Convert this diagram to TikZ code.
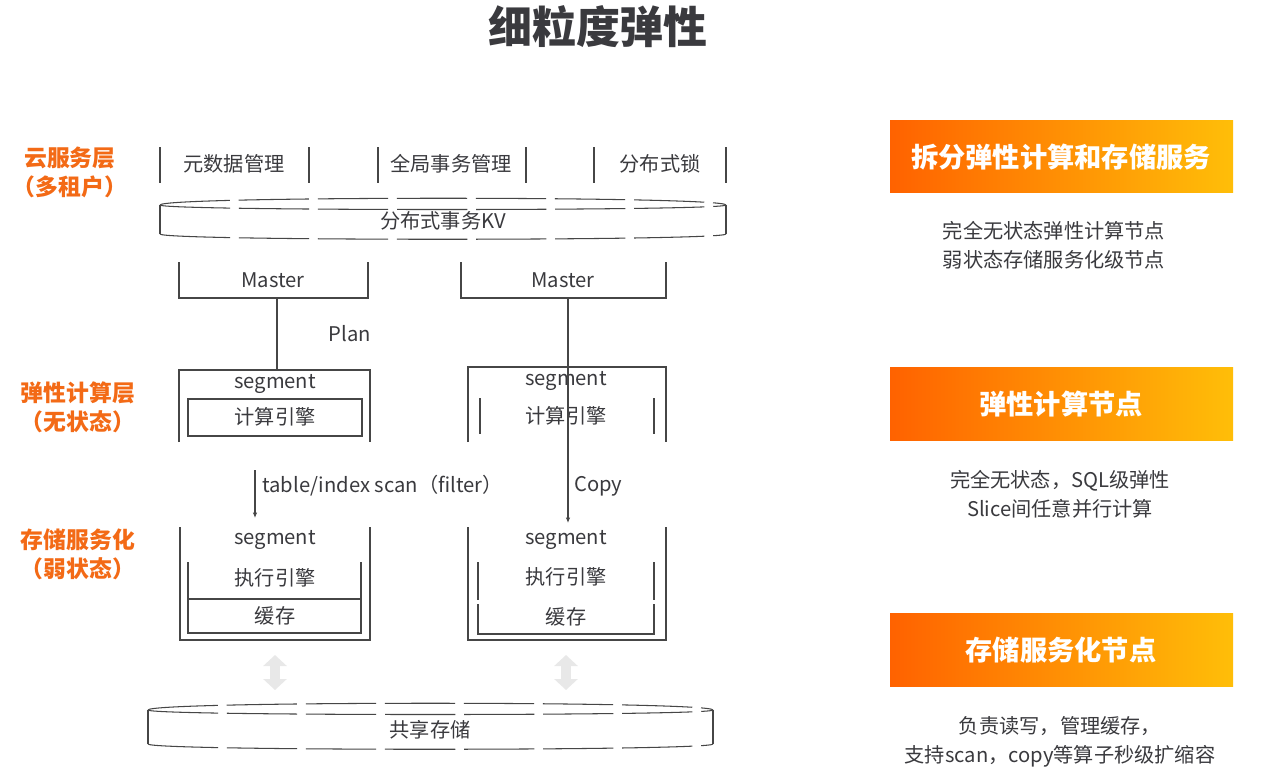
\documentclass[tikz,border=0pt]{standalone}
\usepackage{fontspec}
\setmainfont{Noto Sans CJK SC}
\usepackage{tikz}
\usetikzlibrary{arrows.meta}
\definecolor{textgray}{RGB}{58,58,62}
\definecolor{linegray}{RGB}{70,70,70}
\definecolor{layerorange}{RGB}{243,106,22}
\definecolor{bandleft}{RGB}{255,98,0}
\definecolor{bandmid}{RGB}{255,140,0}
\definecolor{bandright}{RGB}{255,190,8}
\definecolor{arrowgray}{RGB}{232,232,232}

% flat drum: x left, x right, y top of sides, y bottom of sides
\newcommand{\drawdrum}[4]{%
  \draw[drum] (#1,#3) .. controls (#1,#3-9) and (#2,#3-9) .. (#2,#3);
  \draw[drum] (#1,#3) .. controls (#1,#3+6) and (#2,#3+6) .. (#2,#3);
  \draw[drum] (#1,#4) .. controls (#1,#4+7) and (#2,#4+7) .. (#2,#4);
  \draw[drum] (#1,#3) -- (#1,#4) (#2,#3) -- (#2,#4);}

\begin{document}
\begin{tikzpicture}[x=0.02cm, y=-0.02cm,
  txt/.style={text=textgray, font=\fontsize{11.5}{13}\selectfont, inner sep=0pt},
  layer/.style={text=layerorange, font=\bfseries\fontsize{13}{16.5}\selectfont, align=center},
  band/.style={text=white, font=\bfseries\fontsize{15.5}{18}\selectfont},
  note/.style={text=textgray, font=\fontsize{11.5}{16.5}\selectfont, align=center},
  frame/.style={draw=linegray, line width=0.7pt},
  drum/.style={draw=linegray, line width=0.6pt, dash pattern=on 40pt off 5pt}]
    % Background
    \fill[white] (0,0) rectangle (1268,782);
    \useasboundingbox (0,0) rectangle (1268,782);
    % Title
    \node[text=textgray, font=\bfseries\fontsize{25}{30}\selectfont] (title) at (598,27) {细粒度弹性};
    % Layer names
    \node[layer] (cloud) at (70,172) {云服务层\\（多租户）};
    \node[layer] (compute) at (78,407) {弹性计算层\\（无状态）};
    \node[layer] (storage) at (78,554) {存储服务化\\（弱状态）};
    % Cloud service row
    \foreach \x in {160,309,378,526,594,726}
      \draw[frame] (\x,147) -- (\x,183);
    \node[txt] (meta) at (234,164) {元数据管理};
    \node[txt] (txn) at (451,164) {全局事务管理};
    \node[txt] (lock) at (660,164) {分布式锁};
    % Distributed KV
    \drawdrum{160}{726}{205}{234}
    \node[txt] (kv) at (443,221) {分布式事务KV};
    % Master boxes
    \draw[frame] (179,262) -- (179,298) -- (368,298) -- (368,262);
    \node[txt] (master1) at (273,280) {Master};
    \draw[frame] (461,262) -- (461,298) -- (666,298) -- (666,262);
    \node[txt] (master2) at (563,280) {Master};
    \coordinate (m1) at (277,298);
    \coordinate (m2) at (568,298);
    % Compute segments
    \draw[frame] (179,442) -- (179,370) -- (370,370) -- (370,442);
    \node[txt] (seg1) at (275,384) {segment};
    \draw[frame] (188,399) rectangle (362,436);
    \node[txt] (eng1) at (275,417) {计算引擎};
    \draw[frame] (468,442) -- (468,367) -- (666,367) -- (666,442);
    \node[txt] (seg2) at (566,381) {segment};
    \draw[frame] (480,398) -- (480,434) (654,398) -- (654,434);
    \node[txt] (eng2) at (566,416) {计算引擎};
    \coordinate (c1) at (277,370);
    % Plan
    \draw[frame] (m1) -- (c1);
    \node[txt] (plan) at (350,334) {Plan};
    % Storage segments
    \draw[frame] (180,527) -- (180,640) -- (370,640) -- (370,527);
    \node[txt] (seg3) at (275,540) {segment};
    \draw[frame] (188,562) -- (188,598) (361,562) -- (361,598);
    \node[txt] (exe1) at (275,578) {执行引擎};
    \draw[frame] (188,599) rectangle (361,633);
    \node[txt] (cache1) at (275,616) {缓存};
    \draw[frame] (468,527) -- (468,640) -- (666,640) -- (666,527);
    \node[txt] (seg4) at (566,540) {segment};
    \draw[frame] (478,562) -- (478,600) (654,562) -- (654,600);
    \node[txt] (exe2) at (566,577) {执行引擎};
    \draw[frame] (478,604) -- (478,634) -- (654,634) -- (654,604);
    \node[txt] (cache2) at (566,617) {缓存};
    % Scan and copy
    \coordinate (scan) at (255,470);
    \coordinate (s1) at (255,518);
    \coordinate (s2) at (568,523);
    \draw[frame, -{Latex[length=3pt,width=2.5pt]}] (scan) -- (s1);
    \node[txt, anchor=west] (scanlbl) at (262,486) {table/index scan（filter）};
    \draw[frame, -{Latex[length=3pt,width=2.5pt]}] (m2) -- (s2);
    \node[txt, anchor=west] (copy) at (574,486) {Copy};
    % Read / write to shared storage
    \coordinate (u1) at (275,655);
    \coordinate (d1) at (275,690);
    \coordinate (u2) at (566,655);
    \coordinate (d2) at (566,690);
    \draw[arrowgray, line width=2mm, {Triangle[length=2.2mm,width=4.6mm]}-{Triangle[length=2.2mm,width=4.6mm]}] (u1) -- (d1);
    \draw[arrowgray, line width=2mm, {Triangle[length=2.2mm,width=4.6mm]}-{Triangle[length=2.2mm,width=4.6mm]}] (u2) -- (d2);
    % Shared storage
    \drawdrum{148}{713}{710}{744}
    \node[txt] (shared) at (430,730) {共享存储};
    % Right panel
    \shade[left color=bandleft, middle color=bandmid, right color=bandright] (890,120) rectangle (1233,192);
    \node[band] (b1) at (1061,157) {拆分弹性计算和存储服务};
    \node[note] (n1) at (1054,245) {完全无状态弹性计算节点\\弱状态存储服务化级节点};
    \shade[left color=bandleft, middle color=bandmid, right color=bandright] (890,367) rectangle (1233,440);
    \node[band] (b2) at (1061,404) {弹性计算节点};
    \node[note] (n2) at (1060,494) {完全无状态，SQL级弹性\\Slice间任意并行计算};
    \shade[left color=bandleft, middle color=bandmid, right color=bandright] (890,613) rectangle (1233,686);
    \node[band] (b3) at (1061,650) {存储服务化节点};
    \node[note] (n3) at (1060,742) {负责读写，管理缓存，\\支持scan，copy等算子秒级扩缩容};
\end{tikzpicture}
\end{document}
